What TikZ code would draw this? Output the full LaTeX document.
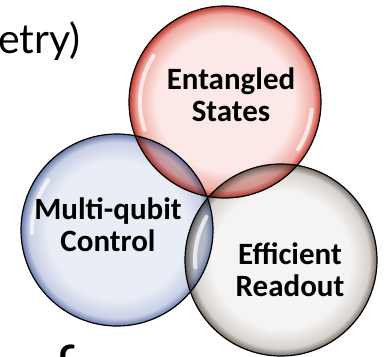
\documentclass[tikz,border=0pt]{standalone}
\usepackage{fontspec}
\setmainfont{Carlito}
\newfontfamily\titlefont{Lato}
\usepackage{xcolor}
\usetikzlibrary{positioning}

% glass colours: core, band, rim
\definecolor{entcore}{RGB}{252,232,230}
\definecolor{entmid}{RGB}{240,170,162}
\definecolor{entrim}{RGB}{188,52,40}
\definecolor{mqccore}{RGB}{233,237,246}
\definecolor{mqcmid}{RGB}{200,208,229}
\definecolor{mqcrim}{RGB}{104,122,172}
\definecolor{erocore}{RGB}{245,244,243}
\definecolor{eromid}{RGB}{214,210,206}
\definecolor{erorim}{RGB}{114,106,100}

\pgfdeclareradialshading{redglass}{\pgfpoint{0bp}{0bp}}{%
  color(0bp)=(entcore); color(18bp)=(entcore); color(23bp)=(entmid);
  color(25bp)=(entrim); color(50bp)=(entrim)}
\pgfdeclareradialshading{blueglass}{\pgfpoint{0bp}{0bp}}{%
  color(0bp)=(mqccore); color(18bp)=(mqccore); color(23bp)=(mqcmid);
  color(25bp)=(mqcrim); color(50bp)=(mqcrim)}
\pgfdeclareradialshading{grayglass}{\pgfpoint{0bp}{0bp}}{%
  color(0bp)=(erocore); color(18bp)=(erocore); color(23bp)=(eromid);
  color(25bp)=(erorim); color(50bp)=(erorim)}

\begin{document}
\begin{tikzpicture}[
  x=1pt, y=-1pt,
  bubble/.style={circle, minimum size=192pt, inner sep=0pt, shade,
    draw=black, line width=1.2pt},
  gloss/.style={white, line width=4pt, line cap=round, opacity=0.7},
  tag/.style={font=\bfseries\fontsize{31}{32}\selectfont, align=center,
    inner sep=0pt},
  big/.style={font=\titlefont\fontsize{41}{48}\selectfont, inner sep=0pt}
]
  \useasboundingbox (0,0) rectangle (384,357);
  \clip (0,0) rectangle (384,357);

  % the three bubbles, multiplied where they overlap
  \begin{scope}[blend mode=multiply]
    \node[bubble, shading=blueglass] (mqc) at (117,230) {};
    \node[bubble, shading=redglass] (ent) at (225,102) {};
    \node[bubble, shading=grayglass] (ero) at (281,260) {};
  \end{scope}

  % highlights along the inner rims
  \draw[gloss] (ent) ++(161:85) arc[start angle=161, end angle=213, radius=85];
  \draw[gloss] (ent) ++(5:87) arc[start angle=5, end angle=33, radius=87];
  \draw[gloss] (mqc) ++(178:85) arc[start angle=178, end angle=216, radius=85];
  \draw[gloss] (ero) ++(175:86) arc[start angle=175, end angle=210, radius=86];

  \node[tag] (entlbl) at (231,95) {Entangled\\States};
  \node[tag] (mqclbl) at (108,225) {Multi-qubit\\Control};
  \node[tag] (erolbl) at (290,270) {Efficient\\Readout};

  % cut-off words around the edge
  \node[big, anchor=base east] (ttl) at (81,53) {etry)};
  \node[big, font=\titlefont\fontsize{60}{60}\selectfont, anchor=base west]
    (nxt) at (54,388) {f};
\end{tikzpicture}
\end{document}
